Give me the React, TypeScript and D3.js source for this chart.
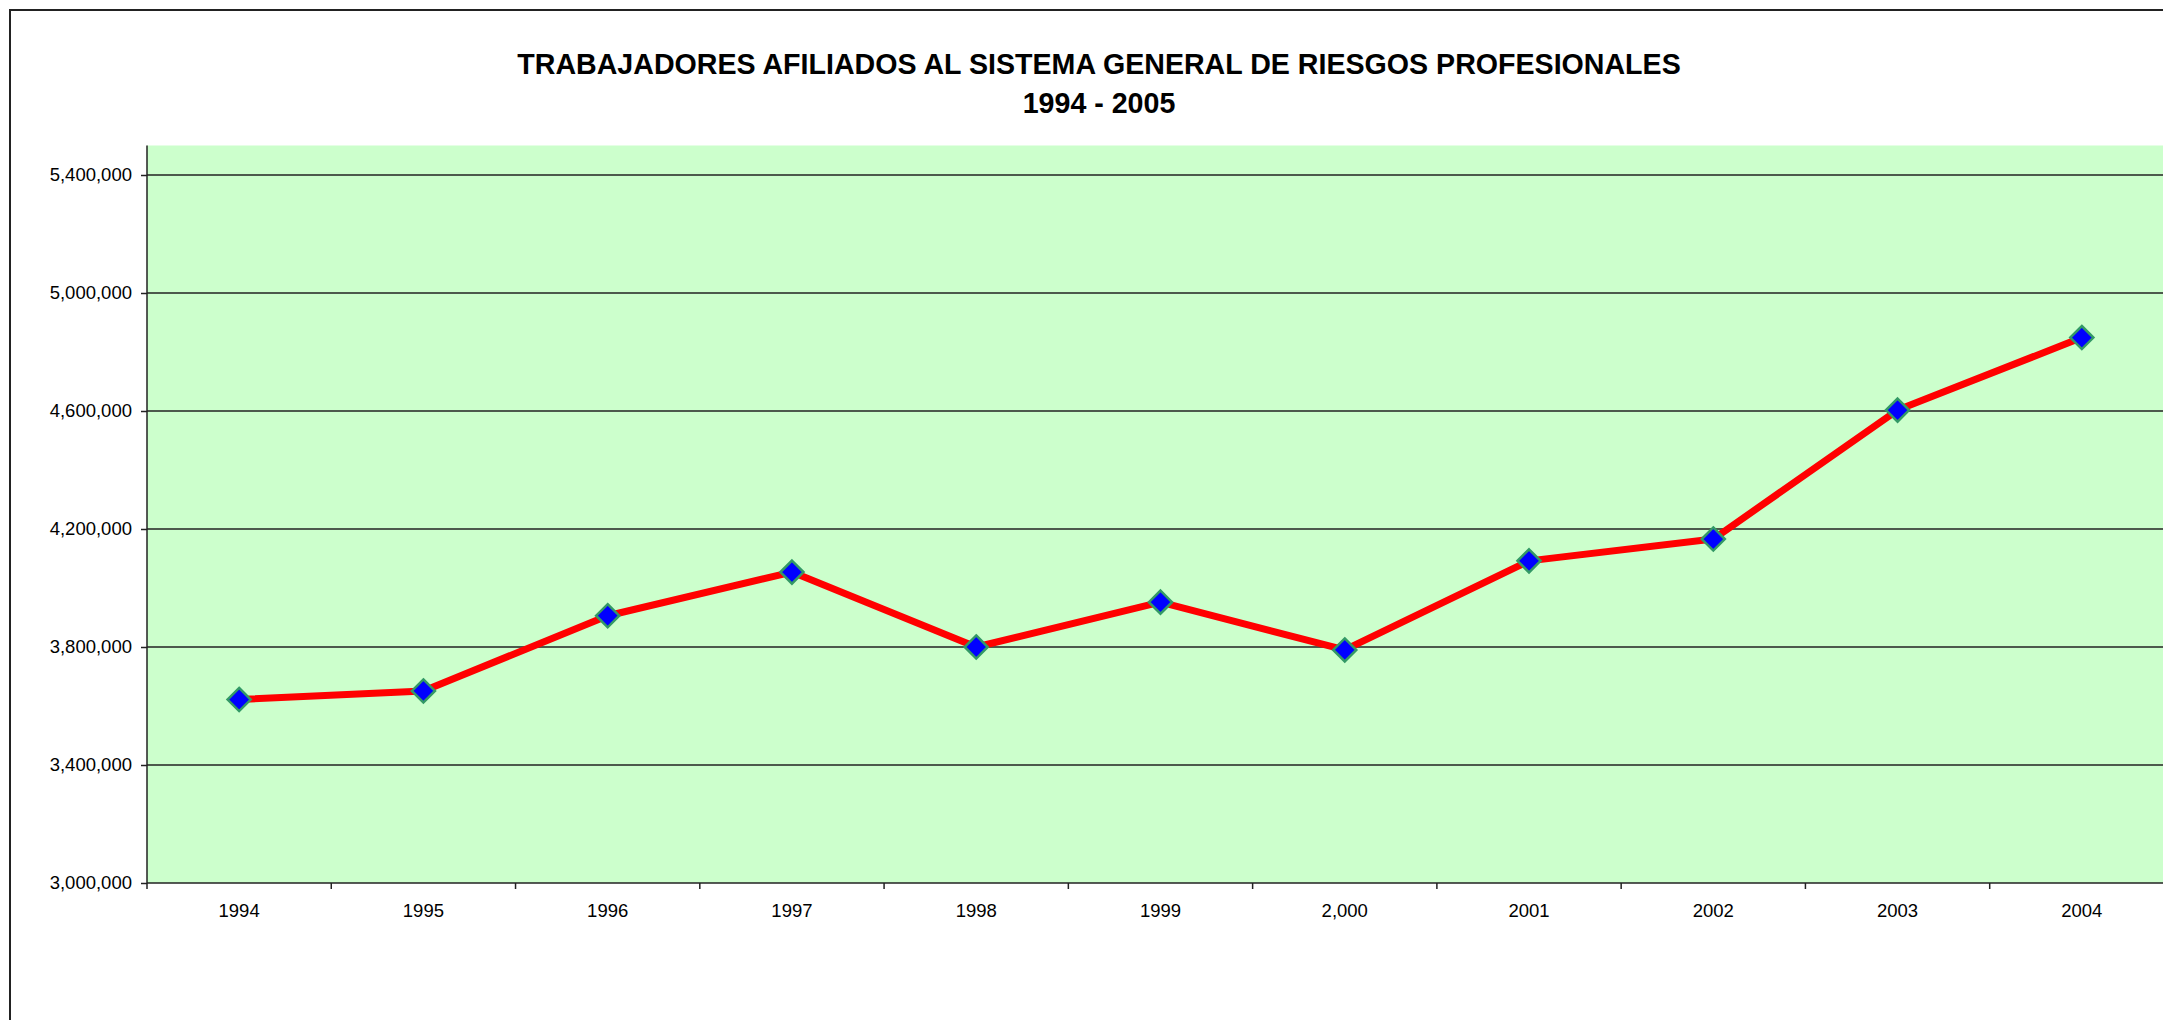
import React, { useEffect, useRef } from "react";
import * as d3 from "d3";

const years = ["1994", "1995", "1996", "1997", "1998", "1999", "2,000", "2001", "2002", "2003", "2004"];
const afiliados = [3622000, 3651000, 3906000, 4054000, 3800000, 3952000, 3790000, 4092000, 4166000, 4603000, 4849000];
const yTicks = [3000000, 3400000, 3800000, 4200000, 4600000, 5000000, 5400000];
const titleLines = ["TRABAJADORES AFILIADOS AL SISTEMA GENERAL DE RIESGOS PROFESIONALES", "1994 - 2005"];

const W = 2163;
const H = 1020;

const App = () => {
  const svgRef = useRef<SVGSVGElement>(null);

  useEffect(() => {
    const svg = d3.select(svgRef.current);
    svg.selectAll("*").remove();

    const left = 147;
    const bottom = 883;
    const band = 184.27;

    // x: one band per year, the plot runs past the right edge of the picture
    const x = d3.scaleBand().domain(years).range([left, left + band * years.length]);
    const y = d3.scaleLinear().domain([3000000, 5500000]).range([bottom, 145.5]);

    // outer frame (only left and top sides visible)
    svg.append("path")
      .attr("d", `M10,${H + 5} L10,10 L${W + 5},10`)
      .attr("fill", "none")
      .attr("stroke", "#222")
      .attr("stroke-width", 2);

    // title
    svg.selectAll(".title")
      .data(titleLines)
      .join("text")
      .attr("class", "title")
      .attr("x", 1099)
      .attr("y", (d, i) => (i === 0 ? 74 : 112.5))
      .attr("text-anchor", "middle")
      .attr("font-family", "'Liberation Sans', Arial, sans-serif")
      .attr("font-weight", "bold")
      .attr("font-size", 28.6)
      .attr("fill", "#000")
      .text((d) => d);

    // plot area
    svg.append("rect")
      .attr("x", left)
      .attr("y", y(5500000))
      .attr("width", W - left + 20)
      .attr("height", bottom - y(5500000))
      .attr("fill", "#ccffcc");

    // gridlines
    svg.selectAll(".grid")
      .data(yTicks.slice(1))
      .join("line")
      .attr("class", "grid")
      .attr("x1", left)
      .attr("x2", W + 10)
      .attr("y1", (d) => y(d))
      .attr("y2", (d) => y(d))
      .attr("stroke", "#222")
      .attr("stroke-width", 1.3);

    // y axis
    const yAxis = d3.axisLeft(y)
      .tickValues(yTicks)
      .tickSize(6)
      .tickPadding(9)
      .tickFormat((d) => d3.format(",")(d as number));
    const gy = svg.append("g").attr("transform", `translate(${left},0)`).call(yAxis);
    gy.select(".domain").attr("stroke", "#222").attr("stroke-width", 1.5)
      .attr("d", `M0,${y(5500000)}V${bottom}`);
    gy.selectAll(".tick line").attr("stroke", "#222").attr("stroke-width", 1.5);
    gy.selectAll(".tick text")
      .attr("font-family", "'Liberation Sans', Arial, sans-serif")
      .attr("font-size", 18.5)
      .attr("fill", "#000");

    // x axis: ticks at band boundaries, labels centred in bands
    const gx = svg.append("g").attr("transform", `translate(0,${bottom})`);
    gx.append("line")
      .attr("x1", left)
      .attr("x2", W + 10)
      .attr("stroke", "#222")
      .attr("stroke-width", 1.5);
    gx.selectAll(".xtick")
      .data(years)
      .join("line")
      .attr("class", "xtick")
      .attr("x1", (d) => x(d)!)
      .attr("x2", (d) => x(d)!)
      .attr("y1", 0)
      .attr("y2", 6)
      .attr("stroke", "#222")
      .attr("stroke-width", 1.5);
    gx.selectAll(".xlabel")
      .data(years)
      .join("text")
      .attr("class", "xlabel")
      .attr("x", (d) => x(d)! + x.bandwidth() / 2)
      .attr("y", 34)
      .attr("text-anchor", "middle")
      .attr("font-family", "'Liberation Sans', Arial, sans-serif")
      .attr("font-size", 18.5)
      .attr("fill", "#000")
      .text((d) => d);

    // series line
    const cx = (i: number) => x(years[i])! + x.bandwidth() / 2;
    const myLine = d3.line<number>()
      .x((d, i) => cx(i))
      .y((d) => y(d));

    svg.append("path")
      .datum(afiliados)
      .attr("d", myLine)
      .attr("fill", "none")
      .attr("stroke", "#ff0000")
      .attr("stroke-width", 7)
      .attr("stroke-linejoin", "round");

    // diamond markers
    const diamond = d3.symbol().type(d3.symbolDiamond2).size(340);
    svg.selectAll(".marker")
      .data(afiliados)
      .join("path")
      .attr("class", "marker")
      .attr("d", diamond)
      .attr("transform", (d, i) => `translate(${cx(i)},${y(d)})`)
      .attr("fill", "#0000ff")
      .attr("stroke", "#339966")
      .attr("stroke-width", 2.5);
  }, []);

  return (
    <svg
      ref={svgRef}
      width={W}
      height={H}
      style={{ position: "absolute", left: 0, top: 0, background: "#fff" }}
    />
  );
};

export default App;
